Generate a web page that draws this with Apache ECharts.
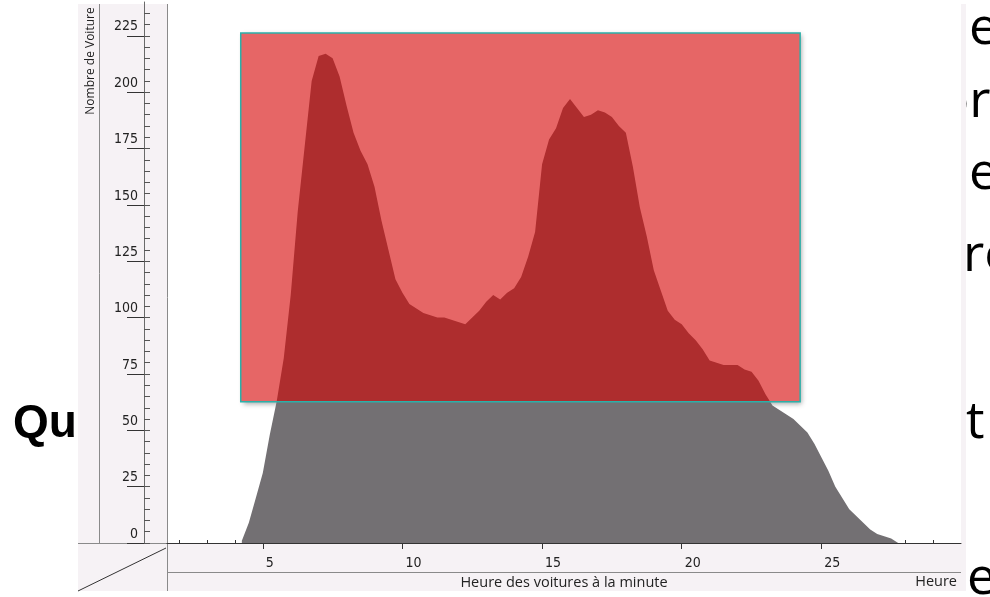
<!DOCTYPE html>
<html><head><meta charset="utf-8">
<script src="https://cdn.jsdelivr.net/npm/echarts@6/dist/echarts.min.js"></script>
<style>html,body{margin:0;padding:0;background:#fff}#c{width:990px;height:597px}</style>
</head><body><div id="c"></div>
<script>
// --- data ---
const hours = [4.25,4.5,4.75,5,5.25,5.5,5.75,6,6.25,6.5,6.75,7,7.25,7.5,7.75,8,8.25,8.5,8.75,9,9.25,9.5,9.75,10,
  10.25,10.5,10.75,11,11.25,11.5,11.75,12,12.25,12.5,12.75,13,13.25,13.5,13.75,14,14.25,14.5,14.75,15,15.25,15.5,15.75,16,
  16.25,16.5,16.75,17,17.25,17.5,17.75,18,18.25,18.5,18.75,19,19.25,19.5,19.75,20,20.25,20.5,20.75,21,21.25,21.5,21.75,22,
  22.25,22.5,22.75,23,23.25,23.5,23.75,24,24.25,24.5,24.75,25,25.25,25.5,25.75,26,26.25,26.5,26.75,27,27.25,27.5,27.75];
const counts = [1,9,20,31,48,63,82,110,147,176,205,216,217,215,207,194,182,174,168,158,143,130,117,111,
  106,104,102,101,100,100,99,98,97,100,103,107,110,108,111,113,118,127,138,168,179,184,193,197,
  193,189,190,192,191,189,185,182,167,149,136,121,112,103,99,97,93,90,86,81,80,79,79,79,
  77,76,72,66,61,59,57,55,52,49,44,38,32,25,20,15,12,9,6,4,3,2,0];
const yLabelValues = [0,25,50,75,100,125,150,175,200,225];
const yMinorValues = [0,5,10,15,20,25,30,35,40,45,50,55,60,65,70,75,80,85,90,95,100,105,110,115,120,125,130,135,140,145,150,155,160,165,170,175,180,185,190,195,200,205,210,215,220,225,230,235];
const xMinorValues = [2,3,4,5,6,7,8,9,10,11,12,13,14,15,16,17,18,19,20,21,22,23,24,25,26,27,28,29];
const xLabelValues = [5,10,15,20,25];
const boxHours = [4.21, 24.24];
const boxCounts = [62.7, 226.2];
const xRange = [1.57, 30];
const yRange = [0, 240];
const yTitle = 'Nombre de Voiture';
const xTitle = 'Heure des voitures à la minute';
const xUnit = 'Heure';

const series = hours.map((h, i) => [h, counts[i]]);
const boxData = [[boxHours[0], boxCounts[0], boxHours[1], boxCounts[1]]];
const labelFont = "'Liberation Sans Narrow','DejaVu Sans Condensed','Arial Narrow',sans-serif";
const uiFont = "'Open Sans','Noto Sans',sans-serif";
const chrome = '#8a8a8a';

function boxRect(api) {
  const p1 = api.coord([api.value(0), api.value(3)]);
  const p2 = api.coord([api.value(2), api.value(1)]);
  return {x: p1[0], y: p1[1], width: p2[0] - p1[0], height: p2[1] - p1[1]};
}

const chart = echarts.init(document.getElementById('c'), null, {renderer: 'canvas'});
chart.setOption({
  animation: false,
  backgroundColor: '#ffffff',
  grid: {left: 167, right: 29, top: 2, bottom: 54, containLabel: false},
  xAxis: [
    {type: 'value', min: xRange[0], max: xRange[1], position: 'bottom', offset: 11,
     axisLine: {show: true, lineStyle: {color: '#333', width: 1}},
     axisTick: {show: true, inside: true, length: 3, customValues: xMinorValues, lineStyle: {color: '#333'}},
     axisLabel: {show: false}, splitLine: {show: false}},
    {type: 'value', min: xRange[0], max: xRange[1], position: 'bottom', offset: 11,
     axisLine: {show: false},
     axisTick: {show: true, inside: false, length: 6, customValues: xLabelValues, lineStyle: {color: '#333'}},
     axisLabel: {show: true, customValues: xLabelValues, align: 'left', padding: [0, 0, 0, 3], margin: 2,
       fontFamily: labelFont, fontSize: 14, color: '#222'},
     name: xTitle, nameLocation: 'middle', nameGap: 20,
     nameTextStyle: {fontFamily: uiFont, fontSize: 14.5, color: '#222', verticalAlign: 'top'},
     splitLine: {show: false}}
  ],
  yAxis: [
    {type: 'value', min: yRange[0], max: yRange[1], position: 'left', offset: 23,
     axisLine: {show: true, lineStyle: {color: '#6a6a6a', width: 1}},
     axisTick: {show: true, inside: true, length: 6, customValues: yMinorValues, lineStyle: {color: '#555'}},
     axisLabel: {show: true, customValues: yLabelValues, margin: 6, verticalAlign: 'bottom', padding: [0, 0, 2, 0],
       fontFamily: labelFont, fontSize: 14, color: '#222'},
     splitLine: {show: false}},
    {type: 'value', min: yRange[0], max: yRange[1], position: 'left', offset: 23,
     axisLine: {show: false},
     axisTick: {show: true, inside: false, length: 17, customValues: yLabelValues, lineStyle: {color: '#333'}},
     axisLabel: {show: false}, splitLine: {show: false}}
  ],
  series: [
    {type: 'custom', name: 'ombre', data: boxData, z: 1, silent: true,
     encode: {x: [0, 2], y: [1, 3]},
     renderItem: (params, api) => ({type: 'rect', shape: boxRect(api),
       style: {fill: '#ffffff', shadowBlur: 5, shadowOffsetX: 2, shadowOffsetY: 2, shadowColor: 'rgba(0,0,0,0.35)'}})},
    {type: 'line', name: 'voitures', data: series, xAxisIndex: 0, yAxisIndex: 0, z: 2,
     showSymbol: false, symbol: 'none', silent: true,
     lineStyle: {width: 0, color: '#737073'},
     areaStyle: {color: '#737073', opacity: 1}},
    {type: 'custom', name: 'zone', data: boxData, z: 5, silent: true,
     encode: {x: [0, 2], y: [1, 3]},
     renderItem: (params, api) => ({type: 'rect', shape: boxRect(api),
       style: {fill: 'rgba(214,0,0,0.6)', stroke: '#2bb0a9', lineWidth: 1.5}})}
  ],
  graphic: [
    {type: 'text', z: -30, style: {text: 'Qu', x: 13, y: 401, fontFamily: "'Liberation Sans','Arial',sans-serif", fontWeight: 'bold', fontSize: 46, fill: '#000'}},
    {type: 'text', z: -30, style: {text: 'e', x: 969, y: 3, fontFamily: uiFont, fontSize: 52, fill: '#000'}},
    {type: 'text', z: -30, style: {text: 'or', x: 938, y: 76, fontFamily: uiFont, fontSize: 52, fill: '#000'}},
    {type: 'text', z: -30, style: {text: 'e', x: 969, y: 148, fontFamily: uiFont, fontSize: 52, fill: '#000'}},
    {type: 'text', z: -30, style: {text: 'ro', x: 963, y: 230, fontFamily: uiFont, fontSize: 52, fill: '#000'}},
    {type: 'text', z: -30, style: {text: 't', x: 966, y: 397, fontFamily: uiFont, fontSize: 52, fill: '#000'}},
    {type: 'text', z: -30, style: {text: 'e', x: 967, y: 553, fontFamily: uiFont, fontSize: 52, fill: '#000'}},
    {type: 'rect', z: -20, silent: true, shape: {x: 78, y: 4, width: 888, height: 587}, style: {fill: '#f6f2f5'}},
    {type: 'rect', z: -15, silent: true, shape: {x: 167, y: 4, width: 794, height: 539}, style: {fill: '#ffffff'}},
    {type: 'line', z: -10, silent: true, shape: {x1: 99.5, y1: 4, x2: 99.5, y2: 543}, style: {stroke: chrome, lineWidth: 1}},
    {type: 'line', z: -10, silent: true, shape: {x1: 167.5, y1: 4, x2: 167.5, y2: 591}, style: {stroke: chrome, lineWidth: 1}},
    {type: 'line', z: -10, silent: true, shape: {x1: 78, y1: 543.5, x2: 961, y2: 543.5}, style: {stroke: chrome, lineWidth: 1}},
    {type: 'line', z: -10, silent: true, shape: {x1: 167, y1: 572.5, x2: 961, y2: 572.5}, style: {stroke: chrome, lineWidth: 1}},
    {type: 'line', z: -10, silent: true, shape: {x1: 78, y1: 591, x2: 166, y2: 548}, style: {stroke: '#333', lineWidth: 1}},
    {type: 'text', z: -10, silent: true, x: 91, y: 61, rotation: Math.PI / 2,
     style: {text: yTitle, x: 0, y: 0, align: 'center', verticalAlign: 'middle', fontFamily: uiFont, fontSize: 12, fill: '#222'}},
    {type: 'text', z: -10, silent: true,
     style: {text: xUnit, x: 957, y: 582, align: 'right', verticalAlign: 'middle', fontFamily: uiFont, fontSize: 14.5, fill: '#222'}}
  ]
});
</script></body></html>
